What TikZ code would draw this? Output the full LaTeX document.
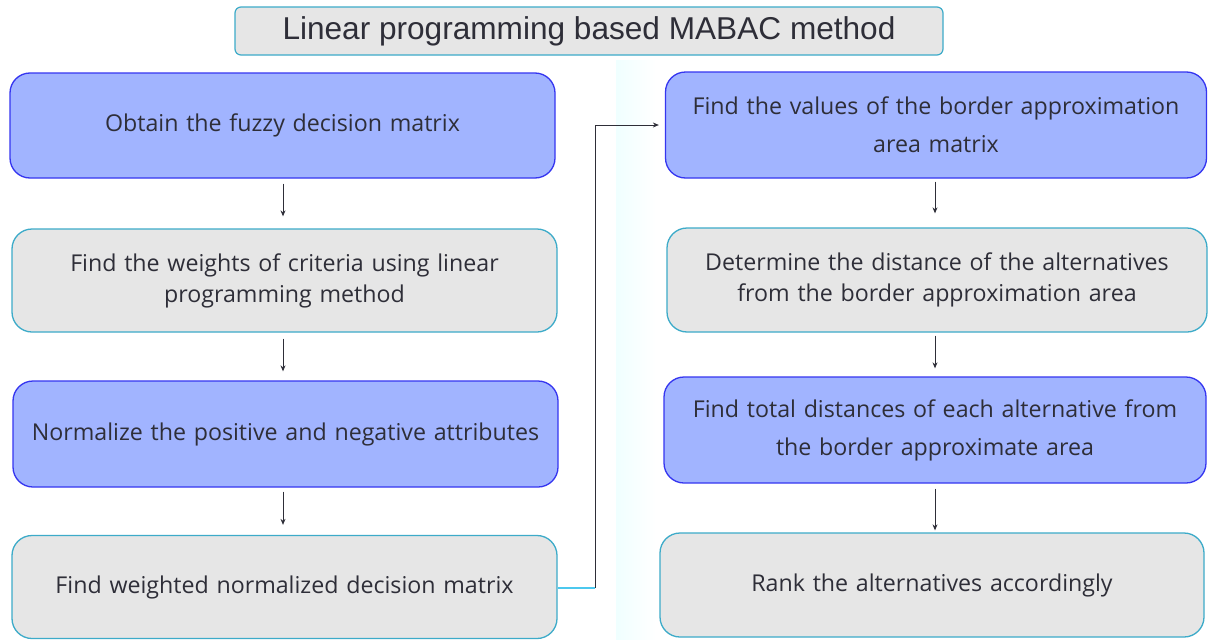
\documentclass[tikz,border=0pt]{standalone}
\usepackage{fontspec}
\setmainfont{Open Sans}
\newfontfamily\titlefont{Liberation Sans}
\usetikzlibrary{arrows.meta}
\definecolor{bluefill}{HTML}{A1B4FF}
\definecolor{blueedge}{HTML}{3535F0}
\definecolor{greyfill}{HTML}{E6E6E6}
\definecolor{tealedge}{HTML}{3DABC9}
\definecolor{txt}{HTML}{2E2E38}
\definecolor{linkcyan}{HTML}{4CC8EE}
\tikzset{
  box/.style={rounded corners=20pt, line width=1.3pt, minimum width=545pt, minimum height=105pt,
    align=center, text width=530pt, text=txt, font=\fontsize{23.2}{31}\selectfont, inner sep=0pt},
  wide/.style={font=\fontsize{23.2}{38}\selectfont},
  bluebox/.style={box, fill=bluefill, draw=blueedge},
  greybox/.style={box, fill=greyfill, draw=tealedge},
  arr/.style={draw=txt, line width=1pt, -{Stealth[length=6pt,width=5pt]}},
}
\begin{document}
\begin{tikzpicture}[x=1pt,y=-1pt]
\useasboundingbox (0,0) rectangle (1208,640);
\fill[white] (0,0) rectangle (1208,640);
\fill[left color=cyan!6, right color=white] (616,60) rectangle (656,640);
\node[rounded corners=6pt, line width=1.2pt, fill=greyfill, draw=tealedge, minimum width=708pt, minimum height=48pt,
  font=\titlefont\fontsize{31.6}{36}\selectfont, text=txt, inner sep=0pt] (title) at (589,31) {Linear programming based MABAC method};
\node[bluebox] (b1) at (282.5,125.5) {Obtain the fuzzy decision matrix};
\node[greybox, minimum height=103pt] (b2) at (284.5,280.5) {Find the weights of criteria using linear\\programming method};
\node[bluebox, minimum height=106pt] (b3) at (285.5,434) {Normalize the positive and negative attributes};
\node[greybox, minimum height=103pt] (b4) at (284.5,587) {Find weighted normalized decision matrix};
\node[bluebox, wide, minimum width=541pt, minimum height=106pt] (b5) at (936,125) {Find the values of the border approximation\\area matrix};
\node[greybox, minimum width=540pt, minimum height=104pt] (b6) at (937,280) {Determine the distance of the alternatives\\from the border approximation area};
\node[bluebox, wide, minimum width=542pt, minimum height=106pt] (b7) at (935,430) {Find total distances of each alternative from\\the border approximate area};
\node[greybox, minimum width=544pt, minimum height=104pt] (b8) at (932,585) {Rank the alternatives accordingly};
\coordinate (lx) at (283,0);
\coordinate (rx) at (935,0);
\draw[arr] ([yshift=-5pt]b1.south -| lx) -- ([yshift=12pt]b2.north -| lx);
\draw[arr] ([yshift=-6pt]b2.south -| lx) -- ([yshift=9pt]b3.north -| lx);
\draw[arr] ([yshift=-4pt]b3.south -| lx) -- ([yshift=10pt]b4.north -| lx);
\draw[arr] ([yshift=-3pt]b5.south -| rx) -- ([yshift=14pt]b6.north -| rx);
\draw[arr] ([yshift=-3pt]b6.south -| rx) -- ([yshift=8pt]b7.north -| rx);
\draw[arr] ([yshift=-5pt]b7.south -| rx) -- ([yshift=2pt]b8.north -| rx);
\coordinate (bend) at (595,588);
\draw[linkcyan, line width=1.3pt] (b4.east |- bend) -- (bend);
\draw[arr] (bend) |- ([xshift=-6pt]b5.west);
\end{tikzpicture}
\end{document}
